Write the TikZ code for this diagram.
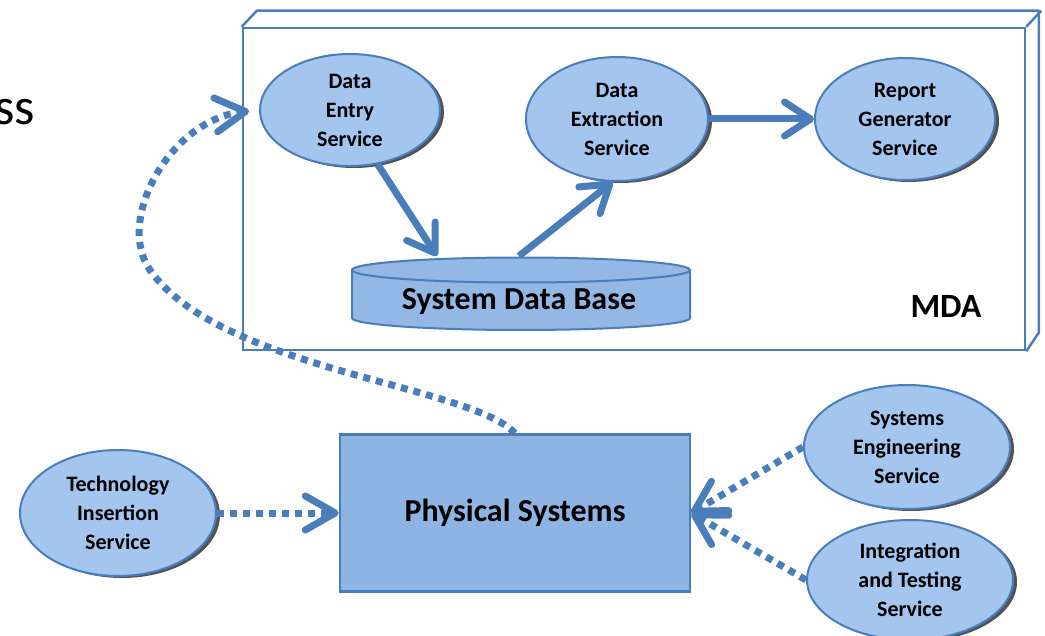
\documentclass[tikz,border=0pt]{standalone}
\usepackage{fontspec}
\setmainfont{Carlito}
\usetikzlibrary{arrows.meta,shapes.geometric,shadows}

\definecolor{mdablue}{RGB}{74,126,187}
\definecolor{ellfill}{RGB}{163,197,238}
\definecolor{physfill}{RGB}{141,180,226}
\definecolor{dbfill}{RGB}{148,184,229}

\begin{document}
\begin{tikzpicture}[x=1pt, y=-1pt,
  svc/.style={ellipse, draw=mdablue, line width=2pt, fill=ellfill, align=center, inner sep=0pt,
    font=\fontsize{22}{29}\selectfont\bfseries,
    drop shadow={shadow xshift=4pt, shadow yshift=-2pt, fill=black!75, opacity=0.9}},
  flow/.style={line width=7pt, draw=mdablue, -{Straight Barb[length=26pt,width=34pt,round]}},
  link/.style={flow, dash pattern=on 7pt off 6pt, -{Straight Barb[length=30pt,width=34pt,round]}},
  big/.style={font=\fontsize{32}{38}\selectfont\bfseries}]
\useasboundingbox (0,0) rectangle (1045,636);

% slide title remnant
\node[anchor=base east, inner sep=0pt, font=\fontsize{52}{60}\selectfont] (ss) at (35,125) {ss};

% MDA frame
\node[draw=mdablue, line width=2.5pt, fill=white, minimum width=782pt, minimum height=322pt, inner sep=0pt] (mda) at (634,189) {};
\draw[mdablue, line width=2.5pt, line join=round] (mda.north west) -- ++(15,-16) -- ++(782,0) -- ++(0,322) -- (mda.south east);
\draw[mdablue, line width=2.5pt] (mda.north east) -- ++(15,-16);
\node[big, font=\fontsize{34}{40}\selectfont\bfseries] (mdalabel) at (946,306) {MDA};

% services inside MDA
\node[svc, minimum width=180pt, minimum height=112pt] (entry) at (350,110) {Data\\Entry\\Service};
\node[svc, minimum width=182pt, minimum height=124pt] (extract) at (617,119) {Data\\Extraction\\Service};
\node[svc, minimum width=180pt, minimum height=122pt] (report) at (905,119) {Report\\Generator\\Service};

% data base
\draw[mdablue, line width=2pt, fill=dbfill] (352,270) -- (352,318) arc[start angle=180, end angle=360, x radius=169pt, y radius=12pt] -- (690,270);
\draw[mdablue, line width=2pt, fill=dbfill] (521,270) ellipse[x radius=169pt, y radius=12.5pt];
\node[big] (dbase) at (519,302) {System Data Base};
\coordinate (dbin) at (437,256);
\coordinate (dbout) at (519,256);

% outside services
\node[draw=mdablue, line width=2.5pt, fill=physfill, minimum width=350pt, minimum height=157pt, big] (phys) at (515,513) {Physical Systems};
\node[svc, minimum width=196pt, minimum height=126pt] (tech) at (118,513) {Technology\\Insertion\\Service};
\node[svc, minimum width=206pt, minimum height=124pt] (syseng) at (907,447) {Systems\\Engineering\\Service};
\node[svc, minimum width=206pt, minimum height=120pt] (integ) at (910,580) {Integration\\and Testing\\Service};

% connectors
\draw[flow] (entry.-63) -- (dbin);
\draw[flow] (dbout) -- (extract.-94);
\draw[flow] (extract.east) -- (report.west);
\draw[link, shorten >=10pt] (phys.north) .. controls (470,385) and (220,370) .. (150,270)
  .. controls (115,220) and (170,120) .. (entry.west);
\draw[link] (tech.east) -- (phys.west);
\draw[link] (syseng.west) -- (phys.east);
\draw[link] (integ.west) -- (phys.east);
\end{tikzpicture}
\end{document}
